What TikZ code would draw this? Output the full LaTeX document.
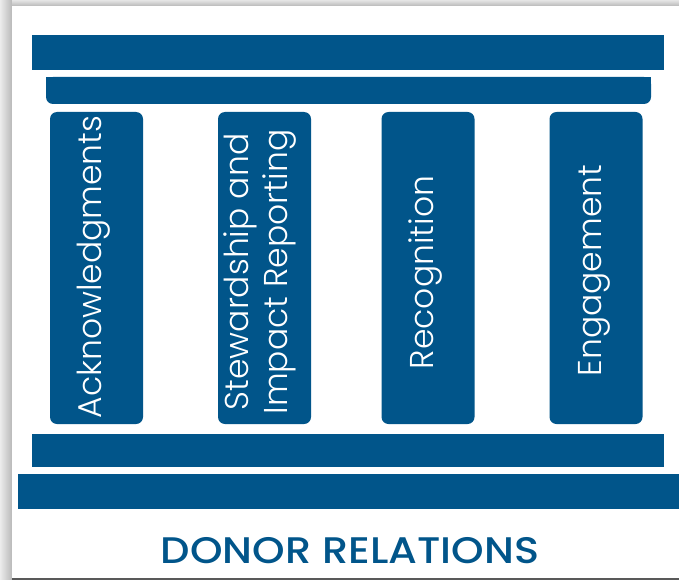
\documentclass[tikz,border=0pt]{standalone}
\usepackage{fontspec}
\setmainfont{Poppins}
\newfontfamily\lightfont{Poppins Light}
\newfontfamily\titlefont{Poppins Medium}
\definecolor{donorblue}{RGB}{1,85,138}
\tikzset{
  bar/.style={fill=donorblue},
  pillar/.style={fill=donorblue, rounded corners=7pt, minimum width=93pt, minimum height=312pt, inner sep=0pt},
  pillartext/.style={rotate=90, text=white, font=\lightfont\fontsize{33}{39}\selectfont, align=center, inner sep=0pt},
}
\begin{document}
\begin{tikzpicture}[x=1pt,y=-1pt]
\useasboundingbox (0,0) rectangle (679,580);
% frame
\fill[gray!45] (0,0) rectangle (679,580);
\shade[left color=gray!15, right color=gray!55] (0,0) rectangle (12,580);
\shade[top color=gray!20, bottom color=gray!55] (12,0) rectangle (679,6);
\fill[white] (12,6) rectangle (679,578);
\fill[gray!70!black] (12,578) rectangle (679,580);
% bars
\fill[bar] (32,35) rectangle (664,70);
\fill[bar, rounded corners=7pt] (46,77) rectangle (651,104);
\fill[bar] (46,77) rectangle (651,92);
\fill[bar] (32,434) rectangle (664,467);
\fill[bar] (18,474) rectangle (679,509);
% pillars
\node[pillar] (p1) at (96.5,268) {};
\node[pillar] (p2) at (264.5,268) {};
\node[pillar] (p3) at (428,268) {};
\node[pillar] (p4) at (596,268) {};
\node[pillartext] (t1) at (94,267) {Acknowledgments};
\node[pillartext] (t2) at (260,272) {Stewardship and\\Impact Reporting};
\node[pillartext] (t3) at (426,272.5) {Recognition};
\node[pillartext] (t4) at (594,270.5) {Engagement};
% title
\node[text=donorblue, font=\titlefont\fontsize{37}{40}\selectfont, inner sep=0pt, anchor=base] (title) at (350,563) {\scalebox{1.12}[1]{DONOR RELATIONS}};
\end{tikzpicture}
\end{document}
